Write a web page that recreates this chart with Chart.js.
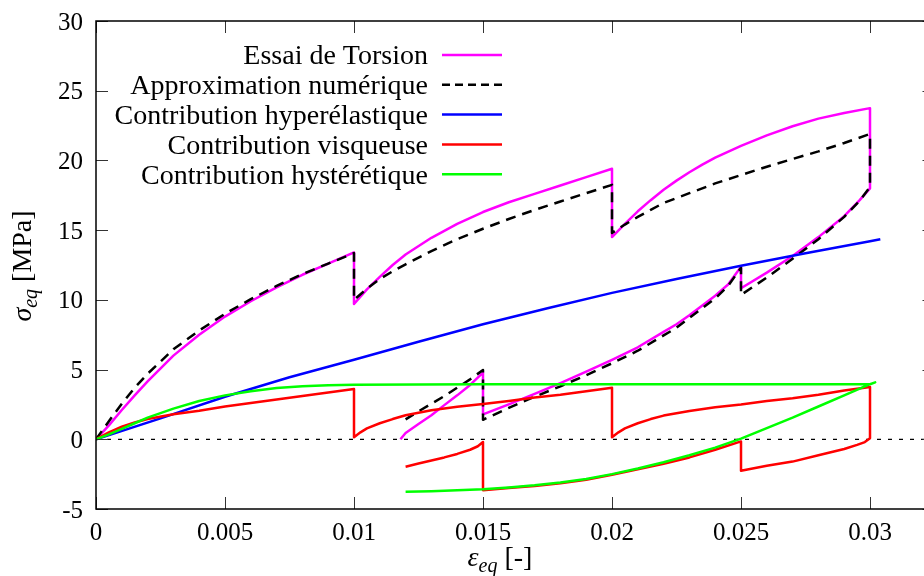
<!DOCTYPE html>
<html>
<head>
<meta charset="utf-8">
<script src="https://cdn.jsdelivr.net/npm/chart.js@4.4.1/dist/chart.umd.min.js"></script>
<style>
  html, body { margin: 0; padding: 0; background: #fff; overflow: hidden; }
</style>
</head>
<body>
<canvas id="chart" width="940" height="576"></canvas>
<script>
// series names (legend, top to bottom)
const seriesNames = ['Essai de Torsion', 'Approximation numérique', 'Contribution hyperélastique',
  'Contribution visqueuse', 'Contribution hystérétique'];

// Essai de Torsion (points in load order: loading, relaxation, unloading)
const essaiX = [0, 0.0005, 0.001, 0.0015, 0.002, 0.003, 0.004, 0.005, 0.006, 0.007, 0.008, 0.009, 0.01,
  0.01, 0.0105, 0.011, 0.0115, 0.012, 0.013, 0.014, 0.015, 0.016, 0.017, 0.018, 0.019, 0.02,
  0.02, 0.0205, 0.021, 0.0215, 0.022, 0.0225, 0.023, 0.0235, 0.024, 0.025, 0.026, 0.027, 0.028, 0.029, 0.03,
  0.03, 0.0296, 0.029, 0.028, 0.027, 0.026, 0.025,
  0.025, 0.0245, 0.024, 0.0235, 0.023, 0.0225, 0.022, 0.021, 0.02, 0.019, 0.018, 0.017, 0.016, 0.015,
  0.015, 0.0145, 0.014, 0.0135, 0.013, 0.0125, 0.012, 0.0118];
const essaiY = [0, 1.0, 2.1, 3.15, 4.15, 6.0, 7.5, 8.8, 9.9, 10.9, 11.8, 12.6, 13.4,
  9.7, 10.75, 11.65, 12.5, 13.25, 14.45, 15.45, 16.3, 17.0, 17.6, 18.2, 18.8, 19.4,
  14.5, 15.45, 16.35, 17.15, 17.9, 18.55, 19.15, 19.7, 20.2, 21.05, 21.8, 22.45, 23.0, 23.4, 23.75,
  18.0, 17.15, 16.0, 14.5, 13.15, 11.95, 10.83,
  12.38, 11.1, 10.3, 9.6, 8.9, 8.25, 7.7, 6.6, 5.7, 4.85, 4.03, 3.25, 2.5, 1.79,
  4.78, 3.9, 3.15, 2.45, 1.72, 1.1, 0.45, 0.0];

// Approximation numérique
const approxX = [0, 0.0005, 0.001, 0.0015, 0.002, 0.003, 0.004, 0.005, 0.006, 0.007, 0.008, 0.009, 0.01,
  0.01, 0.0105, 0.011, 0.0115, 0.012, 0.013, 0.014, 0.015, 0.016, 0.017, 0.018, 0.019, 0.02,
  0.02, 0.0205, 0.021, 0.0215, 0.022, 0.023, 0.024, 0.025, 0.026, 0.027, 0.028, 0.029, 0.03,
  0.03, 0.0296, 0.029, 0.028, 0.027, 0.026, 0.025,
  0.025, 0.0245, 0.024, 0.0235, 0.023, 0.0225, 0.022, 0.021, 0.02, 0.019, 0.018, 0.017, 0.016, 0.015,
  0.015, 0.0145, 0.014, 0.0135, 0.013, 0.0125, 0.012];
const approxY = [0, 1.3, 2.55, 3.7, 4.7, 6.45, 7.8, 9.0, 10.05, 11.0, 11.85, 12.6, 13.35,
  10.0, 10.8, 11.5, 12.05, 12.55, 13.5, 14.35, 15.1, 15.8, 16.45, 17.05, 17.65, 18.25,
  14.8, 15.4, 15.95, 16.45, 16.95, 17.65, 18.35, 18.95, 19.55, 20.1, 20.65, 21.25, 21.9,
  18.1, 17.1, 15.95, 14.35, 12.95, 11.6, 10.35,
  12.3, 11.0, 10.1, 9.4, 8.7, 8.0, 7.45, 6.35, 5.45, 4.6, 3.8, 3.05, 2.25, 1.4,
  4.97, 4.3, 3.7, 3.1, 2.55, 2.0, 1.43];

// Contribution hyperélastique (same path loading and unloading)
const hyperX = [0, 0.0025, 0.005, 0.0075, 0.01, 0.0125, 0.015, 0.0175, 0.02, 0.0225, 0.025, 0.0275, 0.03, 0.0304];
const hyperY = [0, 1.5, 3.05, 4.45, 5.7, 7.0, 8.25, 9.4, 10.5, 11.5, 12.45, 13.35, 14.2, 14.35];

// Contribution visqueuse
const visqX = [0, 0.0005, 0.001, 0.0015, 0.002, 0.003, 0.004, 0.005, 0.006, 0.007, 0.008, 0.009, 0.01,
  0.01, 0.01025, 0.0105, 0.011, 0.0115, 0.012, 0.013, 0.014, 0.015, 0.016, 0.017, 0.018, 0.019, 0.02,
  0.02, 0.02025, 0.0205, 0.021, 0.0215, 0.022, 0.023, 0.024, 0.025, 0.026, 0.027, 0.028, 0.029, 0.03,
  0.03, 0.0298, 0.0295, 0.029, 0.028, 0.027, 0.026, 0.025,
  0.025, 0.024, 0.023, 0.022, 0.021, 0.02, 0.019, 0.018, 0.017, 0.016, 0.015,
  0.015, 0.0148, 0.0145, 0.014, 0.0135, 0.013, 0.0125, 0.012];
const visqY = [0, 0.5, 0.9, 1.2, 1.45, 1.8, 2.05, 2.35, 2.6, 2.85, 3.1, 3.35, 3.6,
  0.15, 0.5, 0.78, 1.15, 1.45, 1.72, 2.08, 2.33, 2.53, 2.75, 3.0, 3.2, 3.45, 3.7,
  0.15, 0.5, 0.78, 1.15, 1.45, 1.7, 2.03, 2.3, 2.5, 2.75, 2.95, 3.2, 3.5, 3.75,
  0.07, -0.2, -0.4, -0.7, -1.15, -1.6, -1.9, -2.25,
  -0.15, -0.75, -1.3, -1.75, -2.15, -2.55, -2.9, -3.15, -3.35, -3.5, -3.65,
  -0.2, -0.5, -0.75, -1.05, -1.3, -1.52, -1.74, -1.97];

// Contribution hystérétique
const hystX = [0, 0.0005, 0.001, 0.0015, 0.002, 0.003, 0.004, 0.005, 0.006, 0.007, 0.008, 0.009, 0.01,
  0.015, 0.02, 0.025, 0.03, 0.0302,
  0.03, 0.029, 0.028, 0.027, 0.026, 0.025, 0.024, 0.023, 0.022, 0.021, 0.02, 0.019, 0.018,
  0.017, 0.016, 0.015, 0.014, 0.013, 0.012];
const hystY = [0, 0.35, 0.75, 1.15, 1.55, 2.2, 2.75, 3.15, 3.45, 3.68, 3.8, 3.87, 3.92,
  3.94, 3.95, 3.95, 3.95, 4.08,
  3.95, 3.15, 2.35, 1.55, 0.8, 0.05, -0.6, -1.15, -1.65, -2.1, -2.5, -2.85, -3.1,
  -3.3, -3.45, -3.58, -3.66, -3.72, -3.76];

// axes
const xMin = 0, xMax = 0.0325;
const yMin = -5, yMax = 30;
const xTicks = [0, 0.005, 0.01, 0.015, 0.02, 0.025, 0.03];
const xTickLabels = ['0', '0.005', '0.01', '0.015', '0.02', '0.025', '0.03'];
const yTicks = [-5, 0, 5, 10, 15, 20, 25, 30];
const yTickLabels = ['-5', '0', '5', '10', '15', '20', '25', '30'];

function pts(xs, ys) {
  return xs.map((v, i) => ({ x: v, y: ys[i] }));
}

const colors = ['#ff00ff', '#000000', '#0000ff', '#ff0000', '#00ff00'];
const dashes = [[], [10, 7], [], [], []];
const series = [pts(essaiX, essaiY), pts(approxX, approxY), pts(hyperX, hyperY), pts(visqX, visqY), pts(hystX, hystY)];

const datasets = series.map((d, i) => ({
  label: seriesNames[i],
  data: d,
  borderColor: colors[i],
  borderWidth: 2.5,
  borderDash: dashes[i],
  borderJoinStyle: 'round',
  showLine: true,
  pointRadius: 0,
  tension: 0,
  order: 5 - i
}));

const SERIF = '"Liberation Serif", "DejaVu Serif", serif';

// draws subscripted label like "σ" + "eq" + " [MPa]"
function subLabel(ctx, main, sub, rest, cx, cy) {
  const fMain = 'italic 28px ' + SERIF;
  const fSub = 'italic 20px ' + SERIF;
  const fRest = '28px ' + SERIF;
  ctx.font = fMain; const w1 = ctx.measureText(main).width;
  ctx.font = fSub; const w2 = ctx.measureText(sub).width;
  ctx.font = fRest; const w3 = ctx.measureText(rest).width;
  let x0 = cx - (w1 + w2 + w3) / 2;
  ctx.textAlign = 'left';
  ctx.textBaseline = 'alphabetic';
  ctx.font = fMain; ctx.fillText(main, x0, cy);
  ctx.font = fSub; ctx.fillText(sub, x0 + w1, cy + 6);
  ctx.font = fRest; ctx.fillText(rest, x0 + w1 + w2, cy);
}

const frame = {
  id: 'frame',
  beforeDatasetsDraw(chart) {
    const { ctx, chartArea: a, scales: { y } } = chart;
    const y0 = y.getPixelForValue(0);
    ctx.save();
    ctx.strokeStyle = '#000';
    ctx.lineWidth = 1.2;
    ctx.setLineDash([4, 7]);
    ctx.beginPath();
    ctx.moveTo(a.left, y0);
    ctx.lineTo(a.right, y0);
    ctx.stroke();
    ctx.restore();
  },
  afterDatasetsDraw(chart) {
    const { ctx, chartArea: a, scales: { x, y } } = chart;
    ctx.save();
    // ticks (inward, mirrored)
    ctx.strokeStyle = '#333';
    ctx.lineWidth = 1;
    ctx.beginPath();
    xTicks.forEach(v => {
      const px = Math.round(x.getPixelForValue(v)) + 0.5;
      ctx.moveTo(px, a.bottom); ctx.lineTo(px, a.bottom - 12);
      ctx.moveTo(px, a.top); ctx.lineTo(px, a.top + 12);
    });
    yTicks.forEach(v => {
      const py = Math.round(y.getPixelForValue(v)) + 0.5;
      ctx.moveTo(a.left, py); ctx.lineTo(a.left + 12, py);
      ctx.moveTo(a.right, py); ctx.lineTo(a.right - 12, py);
    });
    ctx.stroke();
    // border
    ctx.strokeStyle = '#000';
    ctx.lineWidth = 1.5;
    ctx.strokeRect(a.left, a.top, a.right - a.left, a.bottom - a.top);

    // tick labels
    ctx.fillStyle = '#000';
    ctx.font = '25px ' + SERIF;
    ctx.textBaseline = 'middle';
    ctx.textAlign = 'center';
    xTicks.forEach((v, i) => ctx.fillText(xTickLabels[i], x.getPixelForValue(v), a.bottom + 24));
    ctx.textAlign = 'right';
    yTicks.forEach((v, i) => ctx.fillText(yTickLabels[i], a.left - 13, y.getPixelForValue(v) + 2));

    // axis titles
    subLabel(ctx, 'ε', 'eq', ' [-]', 500, 566);
    ctx.save();
    ctx.translate(31, 266);
    ctx.rotate(-Math.PI / 2);
    subLabel(ctx, 'σ', 'eq', ' [MPa]', 0, 0);
    ctx.restore();

    // legend (text right-aligned, sample on the right)
    chart.data.datasets.forEach((ds, i) => {
      const ly = 55 + i * 29.8;
      ctx.font = '28px ' + SERIF;
      ctx.textAlign = 'right';
      ctx.textBaseline = 'middle';
      ctx.fillStyle = '#000';
      ctx.fillText(ds.label, 428, ly + 2);
      ctx.strokeStyle = ds.borderColor;
      ctx.lineWidth = 2.5;
      ctx.setLineDash(ds.borderDash.length ? [8, 5] : []);
      ctx.beginPath();
      ctx.moveTo(442, ly);
      ctx.lineTo(502, ly);
      ctx.stroke();
      ctx.setLineDash([]);
    });
    ctx.restore();
  }
};

const ctx = document.getElementById('chart').getContext('2d');
const chart = new Chart(ctx, {
  type: 'scatter',
  data: { datasets: datasets },
  options: {
    responsive: false,
    animation: false,
    layout: { padding: { left: 96, top: 21, right: 5.5, bottom: 67 } },
    plugins: { legend: { display: false }, tooltip: { enabled: false } },
    scales: {
      x: { type: 'linear', min: xMin, max: xMax, display: false },
      y: { type: 'linear', min: yMin, max: yMax, display: false }
    }
  },
  plugins: [frame]
});
</script>
</body>
</html>
